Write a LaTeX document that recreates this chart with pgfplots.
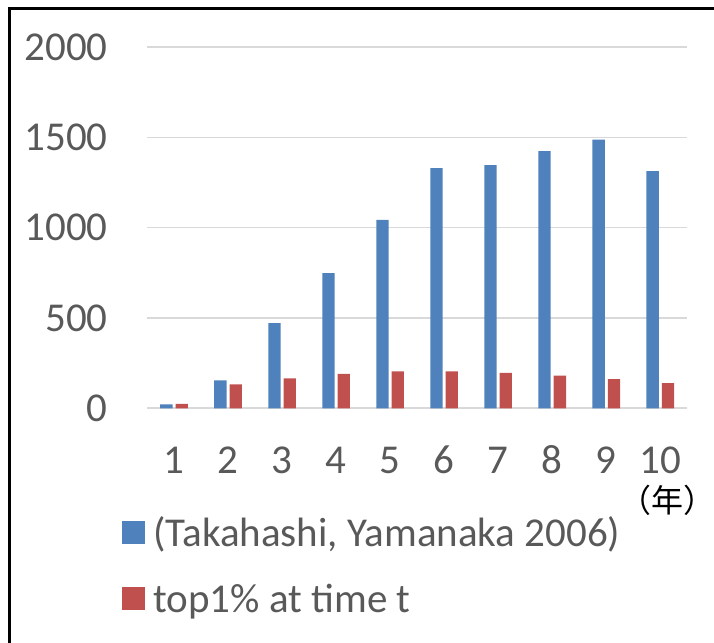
\documentclass[border=0pt]{standalone}
\usepackage{pgfplots}
\pgfplotsset{compat=1.18}
\usepackage{fontspec}
\setmainfont{Carlito}
\newfontfamily\cjk{Noto Sans CJK JP}
\definecolor{barblue}{HTML}{4F81BD}
\definecolor{barred}{HTML}{C0504D}
\definecolor{txtgray}{HTML}{595959}
\definecolor{gridgray}{HTML}{D9D9D9}

\begin{document}
\begin{tikzpicture}
\useasboundingbox (0,0) rectangle (357bp,321.5bp);
\begin{axis}[
    at={(73.5bp,117.35bp)}, anchor=south west,
    scale only axis,
    width=270.15bp, height=180.65bp,
    ybar=1.5bp, bar width=6.15bp,
    xmin=0.5, xmax=10.5, ymin=0, ymax=2000,
    xtick={1,...,10}, ytick={0,500,...,2000},
    major tick length=0pt,
    axis line style={draw=none},
    ymajorgrids, grid style={gridgray, line width=0.8bp},
    ticklabel style={font=\fontsize{20.5bp}{24bp}\selectfont, text=txtgray, inner sep=0pt},
    /pgf/number format/assume math mode=true,
    /pgf/number format/set thousands separator={},
    yticklabel style={anchor=east, xshift=-19.5bp},
    xticklabel style={anchor=base, yshift=-32.5bp},
    legend style={at={(axis description cs:-0.0457,-0.3056)}, anchor=north west,
        draw=none, fill=none, inner sep=0pt, outer sep=0pt,
        font=\fontsize{20.5bp}{24bp}\selectfont, text=txtgray,
        row sep=14bp, column sep=4.15bp,
        nodes={inner sep=0pt, text height=14bp, text depth=5bp}},
    legend cell align=left,
    every axis plot post/.append style={
        legend image code/.code={\fill[#1] (0bp,-3bp) rectangle (11.35bp,8.35bp);}},
]
\addplot[fill=barblue, draw=none] coordinates {
    (1,22) (2,155) (3,471) (4,748) (5,1043)
    (6,1330) (7,1346) (8,1424) (9,1487) (10,1313)
};
\addplot[fill=barred, draw=none] coordinates {
    (1,24) (2,133) (3,166) (4,190) (5,205)
    (6,205) (7,196) (8,181) (9,161) (10,140)
};
\legend{(Takahashi, Yamanaka 2006), top1\% at time t}
\end{axis}
\node[font=\cjk\fontsize{16bp}{18bp}\selectfont, inner sep=0pt] at (333.75bp,71.5bp) {（年）};
\draw[line width=1.3bp] (4.6bp,0) -- (4.6bp,317.15bp) -- (357bp,317.15bp);
\end{tikzpicture}
\end{document}
